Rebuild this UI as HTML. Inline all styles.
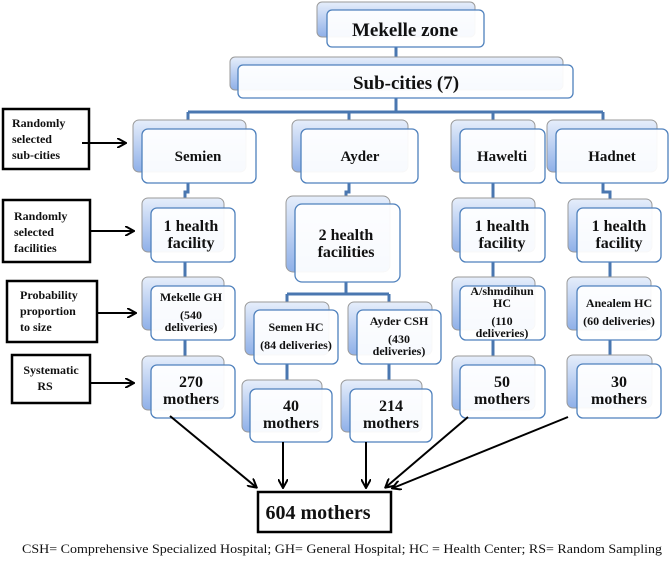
<!DOCTYPE html>
<html><head><meta charset="utf-8"><style>
html,body{margin:0;padding:0;background:#fff;}
svg{display:block}
svg, svg text{font-family:'Liberation Serif','Times New Roman',Times,serif;}
text{font-weight:bold;fill:#111;text-anchor:middle}
.b{fill:url(#g);stroke:#9a9a9a;stroke-width:1}
.f{fill:#fff;fill-opacity:0.93;stroke:#4f81bd;stroke-width:1.3}
.c{stroke:#4a77b0;stroke-width:3;fill:none}
.a{stroke:#000;stroke-width:2;fill:none;marker-end:url(#ar)}
.l{fill:#fff;stroke:#000;stroke-width:2.5}
</style></head><body>
<svg width="669" height="568" viewBox="0 0 669 568" xmlns="http://www.w3.org/2000/svg" font-family="Liberation Serif, Times New Roman, serif">
<defs>
<linearGradient id="g" x1="0" y1="0" x2="0" y2="1">
<stop offset="0" stop-color="#e6eefb"/><stop offset="1" stop-color="#8fb0e8"/>
</linearGradient>
<marker id="ar" markerWidth="10" markerHeight="10" refX="8" refY="5" orient="auto" markerUnits="userSpaceOnUse">
<path d="M0,0 L9,5 L0,10" fill="none" stroke="#000" stroke-width="2"/>
</marker>
</defs>

<path class="c" d="M396 47V65 M396 98V112 M188 112H603 M188 112V129 M349 112V129 M493 112V129 M603 112V129"/>
<path class="c" d="M188 183V192H185V208 M185 262V286 M185 340V365"/>
<path class="c" d="M349 183V192H346V204 M346 282V294 M287 294H389 M287 294V310 M389 294V310 M287 364V389 M389 364V389"/>
<path class="c" d="M493 183V208 M493 262V286 M493 340V365"/>
<path class="c" d="M603 183V192H610V208 M610 262V286 M610 340V364"/>

<rect class="b" x="317" y="2" width="158" height="35" rx="5"/>
<rect class="f" x="327" y="10" width="157" height="37" rx="5"/>
<text x="405" y="36" font-size="19">Mekelle zone</text>
<rect class="b" x="230" y="57" width="333" height="33" rx="5"/>
<rect class="f" x="238" y="65" width="335" height="33" rx="5"/>
<text x="406" y="89" font-size="19">Sub-cities (7)</text>

<rect class="b" x="133" y="120" width="113" height="52" rx="6"/>
<rect class="f" x="142" y="129" width="114" height="54" rx="6"/>
<text x="198" y="161" font-size="15">Semien</text>
<rect class="b" x="292" y="120" width="116" height="52" rx="6"/>
<rect class="f" x="301" y="129" width="117" height="54" rx="6"/>
<text x="360" y="161" font-size="15">Ayder</text>
<rect class="b" x="451" y="120" width="84" height="52" rx="6"/>
<rect class="f" x="460" y="129" width="85" height="54" rx="6"/>
<text x="502" y="161" font-size="15">Hawelti</text>
<rect class="b" x="547" y="120" width="110" height="52" rx="6"/>
<rect class="f" x="556" y="129" width="112" height="54" rx="6"/>
<text x="612" y="161" font-size="15">Hadnet</text>

<rect class="b" x="142" y="198" width="82" height="54" rx="6"/>
<rect class="f" x="151" y="208" width="84" height="54" rx="6"/>
<text x="191" y="231" font-size="16">1 health</text><text x="191" y="248" font-size="16">facility</text>
<rect class="b" x="286" y="196" width="104" height="76" rx="7"/>
<rect class="f" x="295" y="204" width="105" height="78" rx="7"/>
<text x="346" y="240" font-size="16">2 health</text><text x="346" y="257" font-size="16">facilities</text>
<rect class="b" x="452" y="198" width="83" height="54" rx="6"/>
<rect class="f" x="460" y="208" width="85" height="54" rx="6"/>
<text x="502" y="231" font-size="16">1 health</text><text x="502" y="248" font-size="16">facility</text>
<rect class="b" x="568" y="199" width="84" height="53" rx="6"/>
<rect class="f" x="577" y="208" width="84" height="54" rx="6"/>
<text x="619" y="231" font-size="16">1 health</text><text x="619" y="248" font-size="16">facility</text>

<rect class="b" x="142" y="277" width="82" height="53" rx="6"/>
<rect class="f" x="151" y="286" width="84" height="54" rx="6"/>
<text x="191" y="301" font-size="12">Mekelle GH</text>
<text x="191" y="319" font-size="12">(540</text><text x="191" y="331" font-size="12">deliveries)</text>
<rect class="b" x="245" y="302" width="84" height="53" rx="6"/>
<rect class="f" x="254" y="310" width="84" height="54" rx="6"/>
<text x="296" y="331" font-size="12">Semen HC</text><text x="296" y="349" font-size="12">(84 deliveries)</text>
<rect class="b" x="348" y="302" width="84" height="53" rx="6"/>
<rect class="f" x="357" y="310" width="84" height="54" rx="6"/>
<text x="399" y="325" font-size="12">Ayder CSH</text>
<text x="399" y="343" font-size="12">(430</text><text x="399" y="355" font-size="12">deliveries)</text>
<rect class="b" x="452" y="277" width="83" height="53" rx="6"/>
<rect class="f" x="460" y="286" width="85" height="54" rx="6"/>
<text x="502" y="295" font-size="12">A/shmdihun</text><text x="502" y="307" font-size="12">HC</text>
<text x="502" y="325" font-size="12">(110</text><text x="502" y="337" font-size="12">deliveries)</text>
<rect class="b" x="567" y="277" width="84" height="53" rx="6"/>
<rect class="f" x="577" y="286" width="84" height="54" rx="6"/>
<text x="619" y="307" font-size="12">Anealem HC</text><text x="619" y="325" font-size="12">(60 deliveries)</text>

<rect class="b" x="142" y="356" width="82" height="54" rx="6"/>
<rect class="f" x="151" y="365" width="84" height="53" rx="6"/>
<text x="191" y="387" font-size="16">270</text><text x="191" y="404" font-size="16">mothers</text>
<rect class="b" x="242" y="380" width="80" height="52" rx="6"/>
<rect class="f" x="250" y="389" width="82" height="53" rx="6"/>
<text x="291" y="411" font-size="16">40</text><text x="291" y="428" font-size="16">mothers</text>
<rect class="b" x="341" y="380" width="81" height="52" rx="6"/>
<rect class="f" x="350" y="389" width="82" height="53" rx="6"/>
<text x="391" y="411" font-size="16">214</text><text x="391" y="428" font-size="16">mothers</text>
<rect class="b" x="452" y="356" width="83" height="54" rx="6"/>
<rect class="f" x="460" y="365" width="85" height="53" rx="6"/>
<text x="502" y="387" font-size="16">50</text><text x="502" y="404" font-size="16">mothers</text>
<rect class="b" x="567" y="355" width="85" height="53" rx="6"/>
<rect class="f" x="577" y="364" width="84" height="54" rx="6"/>
<text x="619" y="387" font-size="16">30</text><text x="619" y="404" font-size="16">mothers</text>

<path class="a" d="M170 416L256 487"/>
<path class="a" d="M283 442V487"/>
<path class="a" d="M366 442V487"/>
<path class="a" d="M468 417L386 487"/>
<path class="a" d="M568 417L393 488"/>
<rect class="l" x="258" y="492" width="133" height="40"/>
<text x="318" y="519" font-size="20">604 mothers</text>

<rect class="l" x="3" y="109" width="86" height="60"/>
<text x="12" y="127" font-size="12" style="text-anchor:start">Randomly</text>
<text x="12" y="143" font-size="12" style="text-anchor:start">selected</text>
<text x="12" y="159" font-size="12" style="text-anchor:start">sub-cities</text>
<path class="a" d="M82 143H125"/>
<rect class="l" x="3" y="200" width="87" height="62"/>
<text x="14" y="220" font-size="12" style="text-anchor:start">Randomly</text>
<text x="14" y="236" font-size="12" style="text-anchor:start">selected</text>
<text x="14" y="252" font-size="12" style="text-anchor:start">facilities</text>
<path class="a" d="M90 231H133"/>
<rect class="l" x="7" y="281" width="90" height="61"/>
<text x="20" y="299" font-size="12" style="text-anchor:start">Probability</text>
<text x="20" y="315" font-size="12" style="text-anchor:start">proportion</text>
<text x="20" y="331" font-size="12" style="text-anchor:start">to size</text>
<path class="a" d="M96 313H135"/>
<rect class="l" x="12" y="355" width="78" height="48"/>
<text x="51" y="374" font-size="12">Systematic</text>
<text x="45" y="390" font-size="12">RS</text>
<path class="a" d="M90 383H133"/>

<text x="342" y="553" font-size="13" style="font-weight:normal" textLength="640" lengthAdjust="spacingAndGlyphs">CSH= Comprehensive Specialized Hospital; GH= General Hospital; HC = Health Center; RS= Random Sampling</text>
</svg>
</body></html>
